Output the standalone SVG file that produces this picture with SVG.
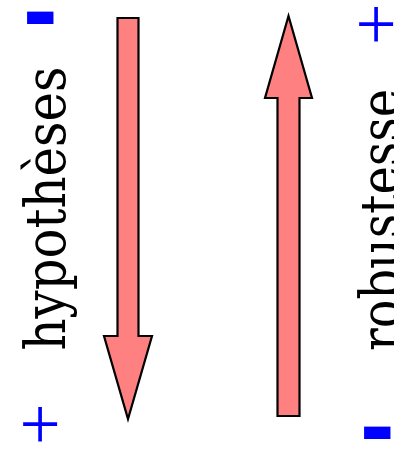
<svg xmlns="http://www.w3.org/2000/svg" width="394" height="449" viewBox="0 0 394 449">
<style>
.arrow{fill:#ff8080;stroke:#000;stroke-width:2.2;stroke-linejoin:miter}
.lbl{font-family:'DejaVu Serif',serif;font-size:56px;fill:#000;text-anchor:middle}
.plus{font-family:'Liberation Serif','Times New Roman',serif;font-size:73px;fill:#0000ff;text-anchor:middle}
.minus{font-family:'Liberation Sans',Arial,sans-serif;font-weight:bold;font-size:104px;fill:#0000ff}
</style>
<rect width="394" height="449" fill="#fff"/>
<g id="connectors">
<path id="arrow-down" class="arrow" d="M117.5,18 H138.5 V336 H152 L128,419 L104,336 H117.5 Z"/>
<path id="arrow-up" class="arrow" d="M277.5,416 H299.5 V98 H312 L288.5,16 L265,98 H277.5 Z"/>
</g>
<g id="hypotheses">
<text class="lbl" transform="translate(65,208.5) rotate(-90)" textLength="284" lengthAdjust="spacingAndGlyphs">hypothèses</text>
</g>
<g id="robustesse">
<text class="lbl" transform="translate(400,220) rotate(-90)" textLength="262" lengthAdjust="spacingAndGlyphs">robustesse</text>
</g>
<g id="signs">
<text class="minus" x="23" y="45">-</text>
<text class="plus" x="376" y="49">+</text>
<text class="plus" x="40" y="449">+</text>
<text class="minus" x="360" y="460">-</text>
</g>
</svg>
